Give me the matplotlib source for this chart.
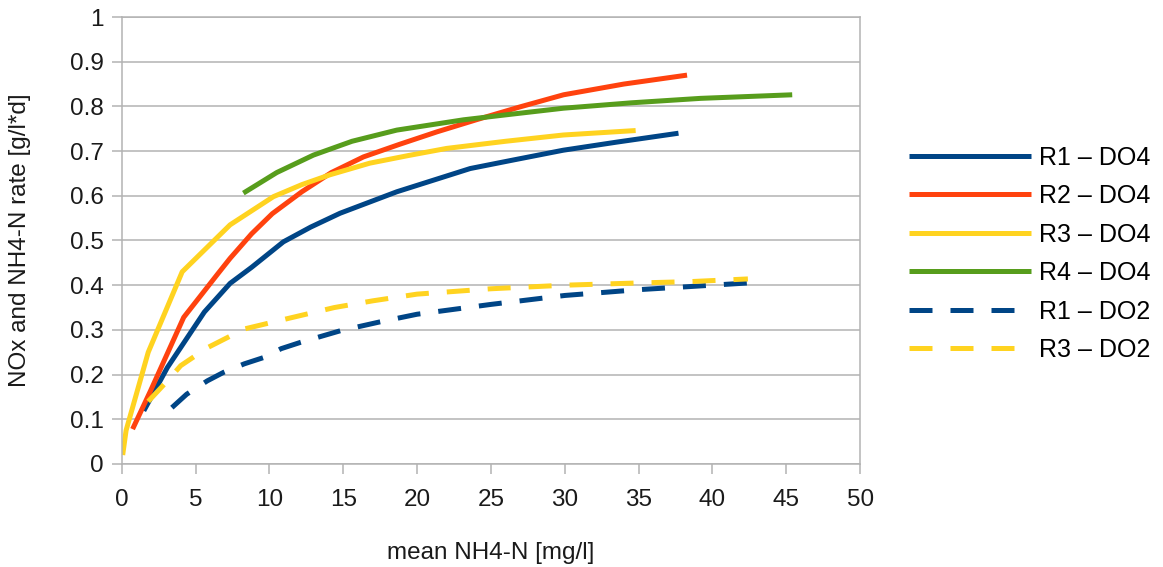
import matplotlib
matplotlib.use("Agg")
import matplotlib.pyplot as plt

# values
r1_do4_x = [1.5, 3.1, 5.6, 7.34, 8.8, 10.95, 12.8, 14.79, 18.63, 23.6, 26.5, 29.9, 33.5, 37.7]
r1_do4_y = [0.119, 0.216, 0.34, 0.404, 0.44, 0.497, 0.53, 0.561, 0.609, 0.661, 0.68, 0.702, 0.72, 0.74]

r2_do4_x = [0.74, 1.96, 4.2, 6.5, 7.34, 8.8, 10.2, 12.2, 14.2, 16.37, 18.8, 21.34, 24.0, 26.98, 29.92, 34.0, 38.28]
r2_do4_y = [0.078, 0.164, 0.328, 0.425, 0.46, 0.515, 0.56, 0.609, 0.652, 0.687, 0.715, 0.743, 0.77, 0.799, 0.826, 0.85, 0.87]

r3_do4_x = [0.07, 0.3, 1.8, 4.1, 7.34, 10.27, 12.2, 14.1, 16.8, 19.4, 22.0, 26.0, 29.9, 34.8]
r3_do4_y = [0.02, 0.075, 0.25, 0.43, 0.535, 0.598, 0.625, 0.647, 0.673, 0.69, 0.706, 0.722, 0.736, 0.746]

r4_do4_x = [8.24, 10.5, 12.98, 15.6, 18.63, 23.14, 26.5, 29.92, 34.5, 39.2, 45.4]
r4_do4_y = [0.606, 0.652, 0.691, 0.722, 0.747, 0.770, 0.783, 0.796, 0.808, 0.818, 0.826]

r1_do2_x = [3.4, 4.4, 5.8, 6.9, 8.3, 9.6, 10.8, 12.1, 14.8, 17.5, 20.0, 25.0, 30.0, 35.0, 38.5, 42.4]
r1_do2_y = [0.126, 0.156, 0.186, 0.205, 0.224, 0.238, 0.258, 0.272, 0.298, 0.318, 0.335, 0.357, 0.377, 0.39, 0.397, 0.405]

r3_do2_x = [1.8, 3.1, 4.0, 5.8, 8.3, 11.2, 14.4, 17.0, 20.0, 25.0, 30.0, 35.0, 38.5, 42.4]
r3_do2_y = [0.14, 0.186, 0.22, 0.26, 0.302, 0.325, 0.35, 0.365, 0.38, 0.392, 0.40, 0.405, 0.408, 0.414]

labels = ["R1 \u2013 DO4", "R2 \u2013 DO4", "R3 \u2013 DO4", "R4 \u2013 DO4",
          "R1 \u2013 DO2", "R3 \u2013 DO2"]

blue = "#004586"
red = "#ff420e"
yellow = "#ffd320"
green = "#579d1c"
grid_color = "#b3b3b3"
text_color = "#1a1a1a"

plt.rcParams["font.family"] = ["Liberation Sans", "DejaVu Sans"]

fig = plt.figure(figsize=(11.63, 5.67), dpi=100)
ax = fig.add_axes([0.1046, 0.1817, 0.635, 0.7883])

lw = 3.6
dash = (4.6, 3.6)

ax.plot(r1_do4_x, r1_do4_y, color=blue, lw=lw, label=labels[0], solid_capstyle="butt")
ax.plot(r2_do4_x, r2_do4_y, color=red, lw=lw, label=labels[1], solid_capstyle="butt")
ax.plot(r3_do4_x, r3_do4_y, color=yellow, lw=lw, label=labels[2], solid_capstyle="butt")
ax.plot(r4_do4_x, r4_do4_y, color=green, lw=lw, label=labels[3], solid_capstyle="butt")
ax.plot(r1_do2_x, r1_do2_y, color=blue, lw=lw, label=labels[4], dashes=dash, dash_capstyle="butt")
ax.plot(r3_do2_x, r3_do2_y, color=yellow, lw=lw, label=labels[5], dashes=dash, dash_capstyle="butt")

ax.set_xlim(0, 50)
ax.set_ylim(0, 1)
ax.set_xticks(range(0, 51, 5))
ax.set_yticks([i / 10 for i in range(11)])
ax.set_yticklabels(["0", "0.1", "0.2", "0.3", "0.4", "0.5", "0.6", "0.7", "0.8", "0.9", "1"])

ax.grid(True, axis="y", color=grid_color, lw=1.1)
ax.set_axisbelow(True)
for s in ax.spines.values():
    s.set_color(grid_color)
    s.set_linewidth(1.1)

ax.tick_params(axis="both", colors=grid_color, labelcolor=text_color, labelsize=17.5,
               length=7, width=1.1)
ax.tick_params(axis="y", pad=6)
ax.tick_params(axis="x", pad=11)

ax.set_xlabel("mean NH4-N [mg/l]", fontsize=17.5, color=text_color, labelpad=22)
ax.set_ylabel("NOx and NH4-N rate [g/l*d]", fontsize=17.5, color=text_color, labelpad=28)

leg = ax.legend(loc="center left", bbox_to_anchor=(1.035, 0.47), frameon=False,
                fontsize=18, handlelength=4.9, handletextpad=0.3, labelspacing=0.58)

fig.savefig("out.png", dpi=100)
